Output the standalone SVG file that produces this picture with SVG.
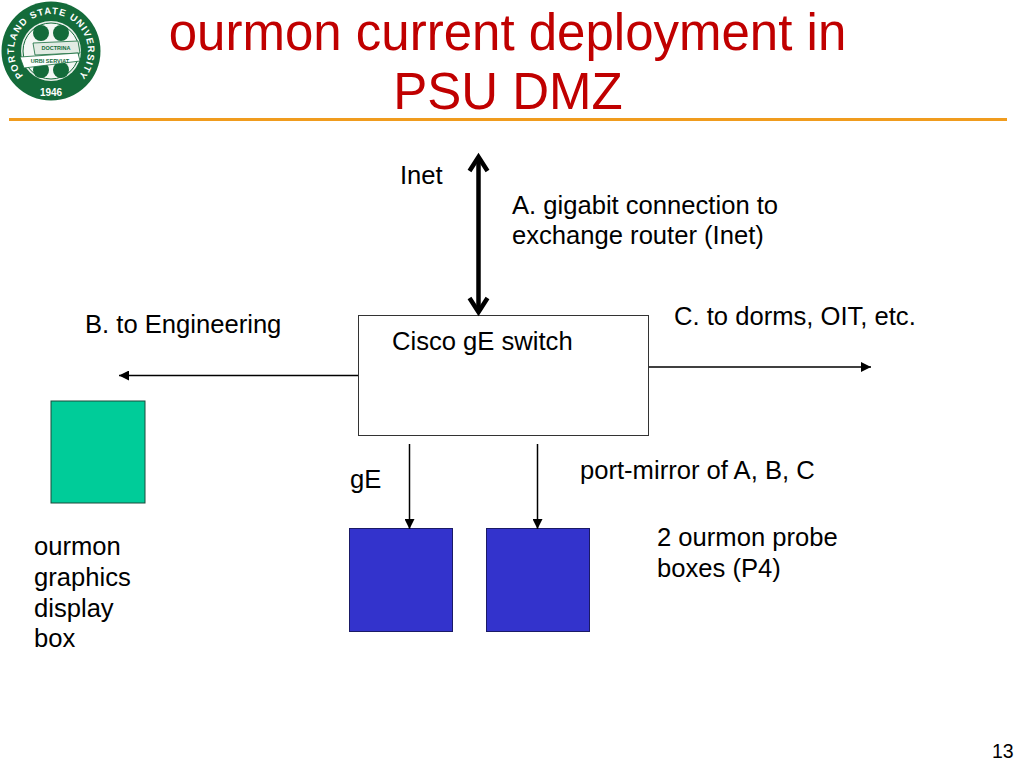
<svg xmlns="http://www.w3.org/2000/svg" width="1024" height="768" viewBox="0 0 1024 768">
<style>
text{font-family:"Liberation Sans",Arial,sans-serif;fill:#000}
.l{font-size:25.6px}
.t{font-size:51px;fill:#c00000;text-anchor:middle}
.c{stroke:#000;stroke-width:1.5;fill:none}
.box{stroke:#1a1a66;stroke-width:1;fill:#3333cc}
.w{font-weight:bold;text-anchor:middle}
</style>
<defs>
<marker id="a" markerUnits="userSpaceOnUse" markerWidth="12" markerHeight="10" refX="10" refY="5" orient="auto"><path d="M0 0L10 5L0 10z" fill="#000"/></marker>
<path id="arcTop" d="M24.800 77.200A37 37 0 1 1 77.200 77.200"/>
</defs>
<rect width="1024" height="768" fill="#fff"/>
<g id="logo">
<circle cx="51" cy="51" r="49.500" fill="#146b3a"/>
<circle cx="51" cy="51" r="30" fill="#e8efe9"/>
<circle cx="51" cy="51" r="28" fill="#f4f7f4" stroke="#146b3a" stroke-width="1"/>
<circle cx="41" cy="33" r="8" fill="#146b3a"/>
<circle cx="61" cy="33" r="8" fill="#146b3a"/>
<circle cx="41" cy="70" r="8" fill="#146b3a"/>
<circle cx="61" cy="70" r="8" fill="#146b3a"/>
<path d="M33 43L78 41L80 53L35 55z" fill="#e2ebe3" stroke="#146b3a" stroke-width=".8"/>
<path d="M20 57L78 53L80 61L24 68z" fill="#fff" stroke="#146b3a" stroke-width=".8"/>
<text font-size="9.500" style="fill:#fff" font-weight="bold"><textPath href="#arcTop" textLength="170" lengthAdjust="spacing" startOffset="2">PORTLAND STATE UNIVERSITY</textPath></text>
<text class="w" x="51" y="96" font-size="10" style="fill:#fff">1946</text>
<text class="w" x="56" y="50" font-size="5.500" style="fill:#146b3a">DOCTRINA</text>
<text class="w" x="50" y="63" font-size="5.500" style="fill:#146b3a">URBI SERVIAT</text>
</g>
<g id="title">
<text class="t" x="507.500" y="50">ourmon current deployment in</text>
<text class="t" x="508" y="109">PSU DMZ</text>
<rect x="9" y="118" width="998" height="3" fill="#f09c1e"/>
</g>
<g id="switch">
<rect x="358.500" y="315.500" width="290" height="120" fill="#fff" stroke="#333" stroke-width="1"/>
<text class="l" x="392" y="350">Cisco gE switch</text>
</g>
<g id="display-box">
<rect x="51" y="401" width="94" height="102" fill="#00cc99" stroke="#1a4a3a" stroke-width="1"/>
<text class="l" x="34" y="555">ourmon</text>
<text class="l" x="34" y="586">graphics</text>
<text class="l" x="34" y="617">display</text>
<text class="l" x="34" y="647">box</text>
</g>
<g id="probe-1"><rect class="box" x="349.500" y="528.500" width="103" height="103"/></g>
<g id="probe-2"><rect class="box" x="486.500" y="528.500" width="103" height="103"/></g>
<g id="connectors">
<path d="M478.500 160V309" stroke="#000" stroke-width="4.500" fill="none"/>
<path d="M469.500 171L478.500 157L487.500 171M469.500 298L478.500 312L487.500 298" stroke="#000" stroke-width="4.500" fill="none"/>
<line class="c" x1="358" y1="375.500" x2="119" y2="375.500" marker-end="url(#a)"/>
<line class="c" x1="649" y1="367" x2="871" y2="367" marker-end="url(#a)"/>
<line class="c" x1="409.500" y1="444" x2="409.500" y2="529" marker-end="url(#a)"/>
<line class="c" x1="537.500" y1="444" x2="537.500" y2="529" marker-end="url(#a)"/>
</g>
<g id="labels">
<text class="l" x="400" y="184">Inet</text>
<text class="l" x="512" y="214">A. gigabit connection to</text>
<text class="l" x="512" y="244">exchange router (Inet)</text>
<text class="l" x="85" y="333">B. to Engineering</text>
<text class="l" x="674" y="324.500">C. to dorms, OIT, etc.</text>
<text class="l" x="350" y="487.500">gE</text>
<text class="l" x="580" y="478.500">port-mirror of A, B, C</text>
<text class="l" x="657" y="546">2 ourmon probe</text>
<text class="l" x="657" y="577">boxes (P4)</text>
<text x="992" y="758" font-size="19.500">13</text>
</g>
</svg>
